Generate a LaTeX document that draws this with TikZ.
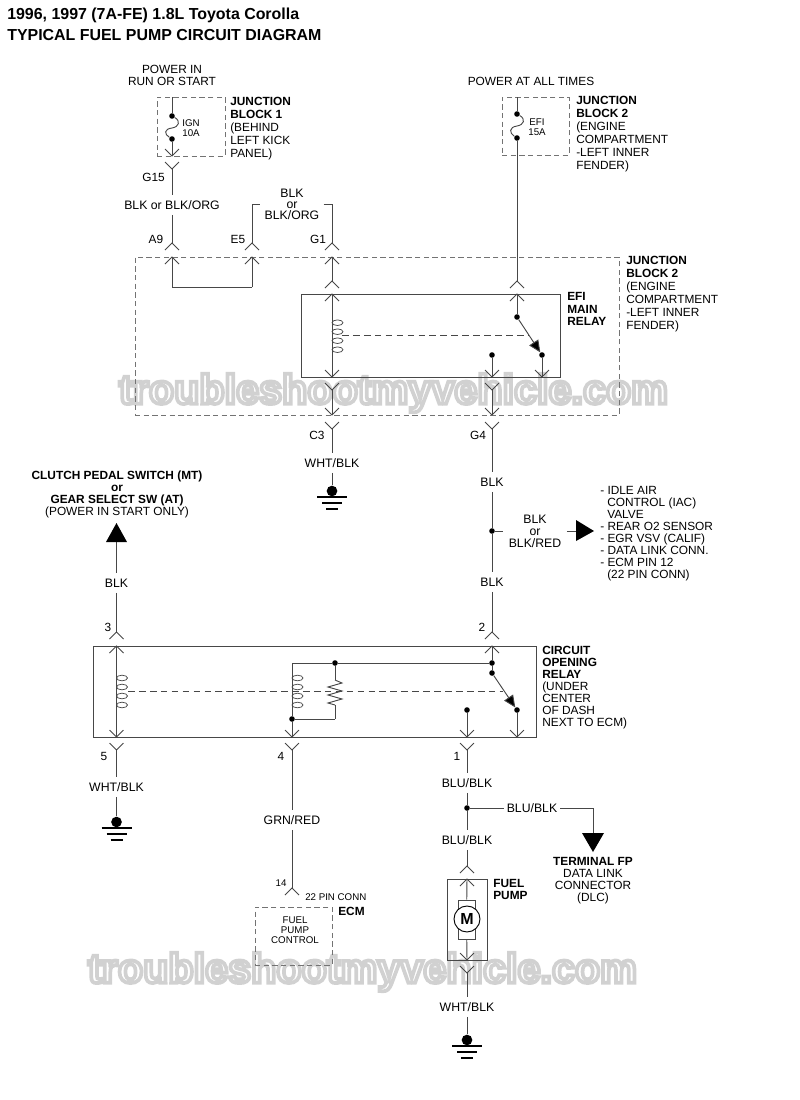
\documentclass[tikz,border=0pt]{standalone}
\usepackage{fontspec}
\setmainfont{Liberation Sans}
\newfontfamily\markfont[BoldFeatures={FakeBold=9}]{Liberation Sans}
\usetikzlibrary{arrows.meta}

\definecolor{wirecol}{gray}{0.28}
\definecolor{boxcol}{gray}{0.45}

% outlined site name, lies under the circuit
\newcommand{\wmark}[3]{%
  \node (#1) at (#2,#3) {\markfont\bfseries\fontsize{31pt}{32pt}\selectfont\special{pdf:code 1 1 1 rg 0.82 0.82 0.82 RG}troubleshootmyvehicle.com\special{pdf:code 0 0 0 rg 0 0 0 RG}};
}

\begin{document}
\begin{tikzpicture}
  [x=.75pt,y=-.75pt,
   every node/.style={inner sep=0pt,font=\fontsize{8.9pt}{9.75pt}\selectfont},
   wire/.style={draw=wirecol,line width=.7pt},
   pinline/.style={draw=wirecol,line width=.55pt},
   dashbox/.style={draw=boxcol,line width=.6pt,dash pattern=on 4pt off 2.5pt},
   relaybox/.style={draw=wirecol,line width=.7pt},
   sized/.style 2 args={minimum width=#1*.75pt,minimum height=#2*.75pt},
   link/.style={draw=wirecol,line width=.7pt,dash pattern=on 5pt off 3.2pt},
   dot/.style={circle,fill=black,minimum size=4.2pt},
   gdot/.style={circle,fill=black,minimum size=8pt},
   wlabel/.style={align=center,text height=6.4pt,text depth=0pt,inner ysep=4pt,inner xsep=2pt,font=\fontsize{9.2pt}{9.75pt}\selectfont},
   mlabel/.style={align=center,inner xsep=3pt,inner ysep=2pt,font=\fontsize{9.2pt}{#1}\selectfont},
   note/.style={anchor=north west,align=left},
   tightnote/.style={anchor=north west,align=left,font=\fontsize{8.9pt}{9pt}\selectfont},
   small/.style={align=center,font=\fontsize{7.3pt}{7.6pt}\selectfont},
   midnote/.style={align=center,font=\fontsize{8.9pt}{9pt}\selectfont},
   swhead/.style={-{Triangle[length=9pt,width=8pt,fill=black]}},
   coil/.pic={\foreach \dy in {0,9,18,27} \draw[pinline] (5.5,\dy) ellipse [x radius=5.5,y radius=2.8];}]

  \useasboundingbox (0,0) rectangle (800,1100);

  \wmark{mark1}{393.5}{393}
  \wmark{mark2}{362.5}{972}

  % titles
  \node[anchor=west,font=\fontsize{11.95pt}{12pt}\bfseries\selectfont] (title1) at (7,15) {1996, 1997 (7A-FE) 1.8L Toyota Corolla};
  \node[anchor=west,font=\fontsize{11.95pt}{12pt}\bfseries\selectfont] (title2) at (7,35) {TYPICAL FUEL PUMP CIRCUIT DIAGRAM};

  % boxes
  \node[dashbox,sized={68}{59}] (jb1box) at (191,126.5) {};
  \node[dashbox,sized={67}{58}] (jb2box) at (535.5,126) {};
  \node[dashbox,sized={484}{158}] (jb2main) at (377,336) {};
  \node[relaybox,sized={259}{83}] (efirelay) at (430.5,335.5) {};
  \node[relaybox,sized={443}{91}] (corelay) at (314.5,691.5) {};
  \node[dashbox,sized={77}{58}] (ecmbox) at (293.5,936) {};
  \node[relaybox,sized={40}{81}] (pumpbox) at (467,919.5) {};

  % chevrons opening downwards
  \foreach \name/\x/\y in {a9o/172/243,e5o/252/243,g1o/332/243,a9i/172/257,e5i/252/257,g1i/332/257,
      g1r/332/281,efio/517/281,g1k/332/294,efik/517/294,p3o/116.5/632,p2o/492/632,p3i/116.5/646,p2i/492/646,
      fpo/467/866,fpi/467/879,ecmp/292/888}
  {
    \coordinate (\name) at (\x,\y);
    \draw[pinline] (\x-7,\y+7) -- (\x,\y) -- (\x+7,\y+7);
  }
  % chevrons opening upwards
  \foreach \name/\x/\y in {fb1/172/156,g15/172/169,coilb/332/377,nob/492/377,comb/542/377,c3i/332/390,g4i/492/390,
      c3m/332/415,g4m/492/415,c3o/332/429,g4o/492/429,p5i/116.5/737,p4i/292/737,p1i/467/737,psw/517/737,
      p5o/116.5/750,p4o/292/750,p1o/467/750,fpb/467/960,fpd/467/973}
  {
    \coordinate (\name) at (\x,\y);
    \draw[pinline] (\x-7,\y-7) -- (\x,\y) -- (\x+7,\y-7);
  }

  % plain corners and ends
  \coordinate (f1top) at (172,97);
  \coordinate (f2top) at (517,97);
  \coordinate (ac) at (172,287);
  \coordinate (ec) at (252,287);
  \coordinate (e5c) at (252,204);
  \coordinate (g1c) at (332,204);
  \coordinate (brnch) at (576,531);
  \coordinate (clutch) at (116.5,542);
  \coordinate (p4c) at (292,663);
  \coordinate (ra) at (335,680);
  \coordinate (rb) at (335,705);
  \coordinate (rc) at (335,719);
  \coordinate (dlcc) at (593,808);
  \coordinate (dlc) at (593,833);

  % dots
  \foreach \name/\x/\y in {fa/172/116,fc/172/139,ea/517/114,ec2/517/138,sw1/517/317,sw2/542/355,nod/492/355,
      jn1/492/531,t1/492/663,t2/492/673,t3/517/710,nod2/467/710,r1/335/663,r3/292/719,jn2/467/808}
    \node[dot] (\name) at (\x,\y) {};

  % wire labels
  \node[wlabel] (l15) at (172,205) {BLK or BLK/ORG};
  \node[mlabel=8.3pt] (le5) at (292,204) {BLK\\or\\BLK/ORG};
  \node[wlabel] (lc3) at (332,463) {WHT/BLK};
  \node[wlabel] (lg4) at (492,482) {BLK};
  \node[wlabel] (l2) at (492,582) {BLK};
  \node[mlabel=9pt,inner xsep=4pt] (lbr) at (535,531) {BLK\\or\\BLK/RED};
  \node[wlabel] (l3) at (116.5,583) {BLK};
  \node[wlabel] (l5) at (116.5,787) {WHT/BLK};
  \node[wlabel] (l4) at (292,820) {GRN/RED};
  \node[wlabel] (l1) at (467,783) {BLU/BLK};
  \node[wlabel] (l1b) at (467,840) {BLU/BLK};
  \node[wlabel] (ldl) at (532,808) {BLU/BLK};
  \node[wlabel] (lfp) at (467,1007) {WHT/BLK};

  % grounds
  \foreach \name/\x/\y in {gnd1/332/491,gnd2/116.5/822,gnd3/467/1040}
  {
    \node[gdot] (\name) at (\x,\y) {};
    \draw[black,line width=1.2pt] (\x-15,\y+6) -- (\x+15,\y+6);
    \draw[black,line width=1.2pt] (\x-10,\y+12) -- (\x+10,\y+12);
    \draw[black,line width=1.2pt] (\x-6,\y+18) -- (\x+6,\y+18);
  }

  % fuel pump motor
  \node[relaybox,sized={17}{39}] (brush) at (466.5,919.5) {};
  \node[circle,draw=black,fill=white,line width=.7pt,minimum size=19.5pt,font=\fontsize{12pt}{12pt}\bfseries\selectfont] (motor) at (467,919) {M};

  % connectors
  \foreach \from/\to in {f1top/fa,fc/fb1,g15/l15,l15/a9o,a9i/ac,ac/ec,ec/e5i,e5o/e5c,e5c/le5,le5/g1c,g1c/g1o,g1i/g1r,
      g1k/coilb,f2top/ea,ec2/efio,efik/sw1,sw2/comb,nod/nob,c3i/c3m,g4i/g4m,c3o/lc3,lc3/gnd1,g4o/lg4,lg4/jn1,
      jn1/l2,l2/p2o,jn1/lbr,lbr/brnch,clutch/l3,l3/p3o,p3i/p5i,p5o/l5,l5/gnd2,p2i/t1,t1/t2,t3/psw,nod2/p1i,
      p4c/r1,r1/t1,p4c/r3,r3/p4i,r1/ra,rb/rc,rc/r3,p4o/l4,l4/ecmp,p1o/l1,l1/jn2,jn2/l1b,l1b/fpo,jn2/ldl,ldl/dlcc,dlcc/dlc,
      fpi/brush,brush/fpb,fpd/lfp,lfp/gnd3}
    \draw[wire] (\from) -- (\to);

  % fuses, switches and resistor
  \draw[wire] (fa) .. controls (181,121) and (179,127) .. (172,128) .. controls (164,129) and (164,134) .. (fc);
  \draw[wire] (ea) .. controls (526,119) and (524,125) .. (517,126) .. controls (509,127) and (509,133) .. (ec2);
  \draw[wire,swhead] (sw1) -- (sw2);
  \draw[wire,swhead] (t2) -- (t3);
  \draw[wire] (ra) -- (342,683) -- (328,687) -- (342,691) -- (328,695) -- (342,699) -- (328,703) -- (rb);

  % coils and the links to the switches
  \pic at (332,322.7) {coil};
  \pic at (116.5,678) {coil};
  \pic at (292,678) {coil};
  \coordinate (lk1) at (342,335);
  \coordinate (lk2) at (528,335);
  \coordinate (lk3) at (128,691);
  \coordinate (lk4) at (503,691);
  \draw[link] (lk1) -- (lk2);
  \draw[link] (lk3) -- (lk4);

  % big arrows
  \fill[black] (106,542) -- (127,542) -- (116.5,523) -- cycle;
  \fill[black] (576,520) -- (576,541) -- (594,531) -- cycle;
  \fill[black] (582,833) -- (604,833) -- (593,852) -- cycle;

  % texts
  \node[align=center,font=\fontsize{8.9pt}{9pt}\selectfont] (pwr1) at (172,75) {POWER IN\\RUN OR START};
  \node (pwr2) at (531,81) {POWER AT ALL TIMES};
  \node[small] (ign) at (191,128) {IGN\\10A};
  \node[small] (efi) at (537,127) {EFI\\15A};
  \node[note] (jb1txt) at (230,96.5) {\textbf{JUNCTION}\\\textbf{BLOCK 1}\\(BEHIND\\LEFT KICK\\PANEL)};
  \node[note] (jb2txt) at (576,95.5) {\textbf{JUNCTION}\\\textbf{BLOCK 2}\\(ENGINE\\COMPARTMENT\\-LEFT INNER\\FENDER)};
  \node[note] (jb3txt) at (626,255.5) {\textbf{JUNCTION}\\\textbf{BLOCK 2}\\(ENGINE\\COMPARTMENT\\-LEFT INNER\\FENDER)};
  \node[tightnote,font=\fontsize{8.9pt}{9.3pt}\bfseries\selectfont] (efitxt) at (567,292.5) {EFI\\MAIN\\RELAY};
  \node[tightnote] (cortxt) at (542,645.5) {\textbf{CIRCUIT}\\\textbf{OPENING}\\\textbf{RELAY}\\(UNDER\\CENTER\\OF DASH\\NEXT TO ECM)};
  \node[anchor=east] (g15t) at (165,177) {G15};
  \node (a9t) at (156,239) {A9};
  \node (e5t) at (238,239) {E5};
  \node (g1t) at (318,239) {G1};
  \node (c3t) at (317,435) {C3};
  \node (g4t) at (478,435) {G4};
  \node (n3) at (108,627) {3};
  \node (n2) at (482,627) {2};
  \node (n5) at (104,756) {5};
  \node (n4) at (281,756) {4};
  \node (n1) at (457,756) {1};
  \node[small] (n14) at (281,883) {14};
  \node[small,anchor=west] (conn) at (305,897) {22 PIN CONN};
  \node[anchor=west,font=\fontsize{8.9pt}{9pt}\bfseries\selectfont] (ecmt) at (338,911) {ECM};
  \node[small] (ecmc) at (295,930) {FUEL\\PUMP\\CONTROL};
  \node[midnote] (clutcht) at (117,494) {\textbf{CLUTCH PEDAL SWITCH (MT)}\\\textbf{or}\\\textbf{GEAR SELECT SW (AT)}\\(POWER IN START ONLY)};
  \node[tightnote] (listt) at (600,486.5) {- IDLE AIR\\\hspace*{5.25pt}CONTROL (IAC)\\\hspace*{5.25pt}VALVE\\- REAR O2 SENSOR\\- EGR VSV (CALIF)\\- DATA LINK CONN.\\- ECM PIN 12\\\hspace*{5.25pt}(22 PIN CONN)};
  \node[midnote] (dlct) at (593,881) {\textbf{TERMINAL FP}\\DATA LINK\\CONNECTOR\\(DLC)};
  \node[tightnote,font=\fontsize{8.9pt}{9pt}\bfseries\selectfont] (pumpt) at (493,879.5) {FUEL\\PUMP};
\end{tikzpicture}
\end{document}
